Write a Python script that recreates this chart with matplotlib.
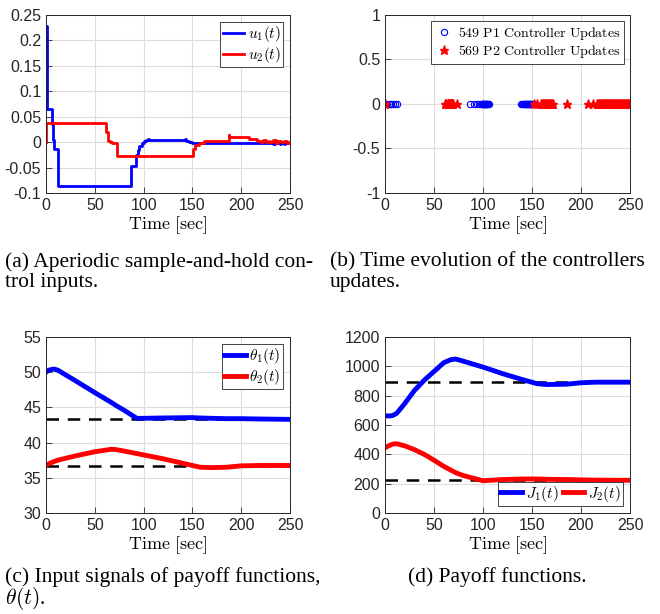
import matplotlib
matplotlib.use('Agg')
from matplotlib import pyplot as plt

plt.rcParams['font.family'] = ['Liberation Sans', 'DejaVu Sans']
plt.rcParams['mathtext.fontset'] = 'cm'

# (a) sample-and-hold control inputs (step values)
u1_t = [0, 0.7, 6.5, 7.3, 8.2, 12.6, 86.7, 92.2, 94.0, 95.6, 98.0, 100.4, 102.5,
        104.8, 105.5, 142.4, 143.5, 145, 146.5, 148, 150, 152, 156, 233, 234.5,
        236, 240, 241, 244, 245, 250]
u1_v = [0.228, 0.065, 0.035, 0.005, -0.013, -0.087, -0.047, -0.026, -0.016,
        -0.008, -0.002, 0.002, 0.005, 0.007, 0.005, 0.006, 0.003, 0.002, 0.0,
        0.001, -0.001, -0.002, -0.002, -0.004, -0.002, -0.002, -0.004, -0.002,
        -0.003, -0.002, -0.002]
u2_t = [0, 0.3, 61.1, 63.2, 64.0, 65.6, 68.0, 73.0, 151, 153, 156.5, 161.7,
        187.3, 188, 207.5, 216, 220, 222, 225, 228, 230, 233, 236, 238, 241,
        244, 247, 250]
u2_v = [0.0, 0.037, 0.02, 0.0105, 0.003, 0.0, -0.002, -0.028, -0.014, -0.006,
        -0.001, 0.0015, 0.014, 0.0095, 0.0055, 0.003, 0.001, 0.004, 0.0, 0.003,
        0.001, 0.004, -0.001, 0.003, 0.0, 0.002, -0.002, 0.0]

# (b) controller update instants
p1_times = [0, 0.5, 1, 5, 6.5, 8, 10, 12.5, 86.5, 90.5, 93.5, 96, 97.5, 98.5,
            99, 99.5, 100, 100.5, 101, 101.5, 102, 102.5, 103, 103.5, 104,
            104.5, 105, 106, 139, 140, 141, 142, 142.5, 143, 143.5, 144, 144.5,
            145, 145.5, 146, 146.5, 147, 147.5, 148, 149, 150, 151, 152, 250]
p2_times = [0, 0.5, 61, 62.5, 64, 64.5, 65, 65.5, 66, 66.5, 67, 67.5, 68, 68.5,
            69, 73, 152.5, 155, 159.5, 160, 161, 162, 163, 164, 165, 166, 167,
            168, 169, 170, 171, 186, 207.5, 212.5, 216, 217, 218, 219, 220, 221,
            222, 223, 224, 225, 226, 227, 228, 229, 230, 231, 232, 233, 234,
            235, 236, 237, 238, 239, 240, 241, 242, 243, 244, 245, 246, 247,
            248, 249, 250]
p1_count = 549
p2_count = 569

# (c) payoff inputs theta
th_t = [0, 3, 8, 12, 30, 50, 67, 72, 80, 93, 100, 120, 150, 158, 170, 185,
        200, 220, 250]
th1 = [50.0, 50.3, 50.45, 50.3, 48.8, 47.1, 45.7, 45.25, 44.6, 43.45, 43.45,
       43.5, 43.55, 43.5, 43.45, 43.4, 43.4, 43.35, 43.3]
th2 = [36.75, 37.0, 37.3, 37.5, 38.1, 38.7, 39.05, 39.0, 38.8, 38.45, 38.25,
       37.7, 36.75, 36.5, 36.45, 36.5, 36.7, 36.75, 36.75]
th1_star = 43.3
th2_star = 36.7

# (d) payoff functions J
j_t = [0, 5, 8, 12, 20, 30, 40, 50, 60, 67, 72, 80, 100, 120, 140, 155, 165,
       185, 200, 215, 250]
j1 = [662, 662, 665, 680, 745, 835, 905, 965, 1025, 1045, 1050, 1035, 995,
      950, 910, 882, 876, 878, 888, 892, 892]
j2 = [445, 462, 470, 472, 458, 432, 400, 360, 318, 293, 275, 255, 220, 228,
      232, 232, 230, 228, 226, 224, 223]
j1_star = 890
j2_star = 222

captions = [
    ['(a) Aperiodic sample-and-hold con-', 'trol inputs.'],
    ['(b) Time evolution of the controllers', 'updates.'],
    ['(c) Input signals of payoff functions,', r'$\theta(t)$.'],
    ['(d) Payoff functions.'],
]

W, H = 660, 614
fig = plt.figure(figsize=(W / 100, H / 100), dpi=100)


def px_axes(x0, y0, x1, y1):
    return fig.add_axes([x0 / W, 1 - y1 / H, (x1 - x0) / W, (y1 - y0) / H])


def style(ax):
    ax.grid(True, color='#dcdcdc', linewidth=0.8)
    ax.set_axisbelow(True)
    ax.tick_params(direction='in', length=4, labelsize=11.5, colors='#262626',
                   width=0.6)
    for sp in ax.spines.values():
        sp.set_color('#262626')
        sp.set_linewidth(0.7)
    ax.set_xlim(0, 250)
    ax.set_xticks([0, 50, 100, 150, 200, 250])
    ax.set_xlabel(r'$\mathrm{Time\ [sec]}$', fontsize=13, labelpad=1)


def legend(ax, **kw):
    opts = dict(fancybox=False, framealpha=1, edgecolor='#262626',
                borderpad=0.15, handlelength=1.4, handletextpad=0.25,
                labelspacing=0.05, borderaxespad=0.45, fontsize=11)
    opts.update(kw)
    leg = ax.legend(**opts)
    leg.get_frame().set_linewidth(0.6)
    return leg


ax_a = px_axes(46, 15, 290, 193)
ax_b = px_axes(385, 15, 630, 193)
ax_c = px_axes(46, 337, 290, 513)
ax_d = px_axes(385, 337, 630, 513)

# (a)
ax_a.plot(u1_t, u1_v, drawstyle='steps-post', color='b', lw=2, label=r'$u_1(t)$')
ax_a.plot(u2_t, u2_v, drawstyle='steps-post', color='r', lw=2, label=r'$u_2(t)$')
style(ax_a)
ax_a.set_ylim(-0.1, 0.25)
ax_a.set_yticks([-0.1, -0.05, 0, 0.05, 0.1, 0.15, 0.2, 0.25])
ax_a.set_yticklabels(['-0.1', '-0.05', '0', '0.05', '0.1', '0.15', '0.2', '0.25'])
legend(ax_a, loc='upper right')

# (b)
ax_b.plot(p1_times, [0] * len(p1_times), 'o', color='b', mfc='none', ms=4.5,
          mew=0.8, ls='none',
          label=r'$\mathrm{%d\ P1\ Controller\ Updates}$' % p1_count)
ax_b.plot(p2_times, [0] * len(p2_times), '*', color='r', ms=6.5, ls='none',
          label=r'$\mathrm{%d\ P2\ Controller\ Updates}$' % p2_count)
style(ax_b)
ax_b.set_ylim(-1, 1)
ax_b.set_yticks([-1, -0.5, 0, 0.5, 1])
ax_b.set_yticklabels(['-1', '-0.5', '0', '0.5', '1'])
legend(ax_b, loc='upper right', fontsize=10, handlelength=1.4,
       labelspacing=0.1, borderpad=0.25)

# (c)
ax_c.plot([0, 250], [th1_star, th1_star], 'k--', lw=1.8, dashes=(5, 3.5))
ax_c.plot([0, 250], [th2_star, th2_star], 'k--', lw=1.8, dashes=(5, 3.5))
ax_c.plot(th_t, th1, color='b', lw=3.5, label=r'$\theta_1(t)$')
ax_c.plot(th_t, th2, color='r', lw=3.5, label=r'$\theta_2(t)$')
style(ax_c)
ax_c.set_ylim(30, 55)
ax_c.set_yticks([30, 35, 40, 45, 50, 55])
legend(ax_c, loc='upper right')

# (d)
ax_d.plot([0, 250], [j1_star, j1_star], 'k--', lw=1.8, dashes=(5, 3.5))
ax_d.plot([0, 250], [j2_star, j2_star], 'k--', lw=1.8, dashes=(5, 3.5))
ax_d.plot(j_t, j1, color='b', lw=3.5, label=r'$J_1(t)$')
ax_d.plot(j_t, j2, color='r', lw=3.5, label=r'$J_2(t)$')
style(ax_d)
ax_d.set_ylim(0, 1200)
ax_d.set_yticks([0, 200, 400, 600, 800, 1000, 1200])
legend(ax_d, loc='lower right', ncol=2, columnspacing=0.3)

# captions
cap_font = {'family': 'Liberation Serif', 'size': 15.5}
cap_pos = [(5, 262), (330, 262), (5, 577), (408, 577)]
for lines, (cx, cy) in zip(captions, cap_pos):
    for i, line in enumerate(lines):
        fig.text(cx / W, 1 - (cy + 21 * i) / H, line, va='center', ha='left',
                 fontdict=cap_font)

fig.savefig('out.png', dpi=100)
